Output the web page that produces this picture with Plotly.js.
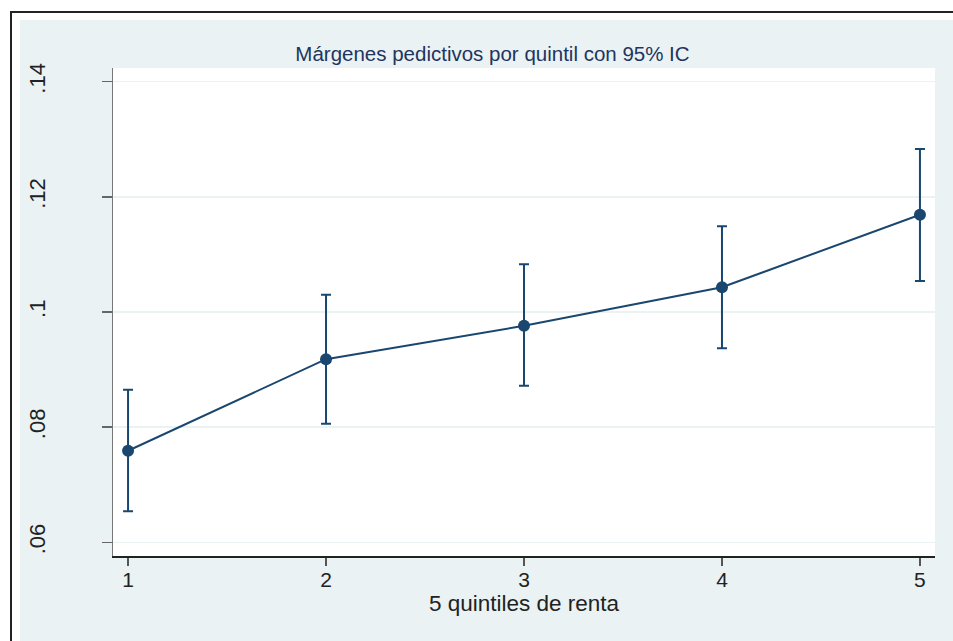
<!DOCTYPE html>
<html>
<head>
<meta charset="utf-8">
<script src="https://cdn.plot.ly/plotly-3.0.1.min.js"></script>
<style>
  html, body { margin: 0; padding: 0; background: #ffffff; width: 953px; height: 641px; overflow: hidden; }
  #frame { position: absolute; left: 10px; top: 11px; width: 943px; height: 630px; border-left: 2px solid #222; border-top: 2px solid #222; box-sizing: border-box; }
  #chart { position: absolute; left: 20px; top: 20px; width: 933px; height: 621px; }
</style>
</head>
<body>
<div id="frame"></div>
<div id="chart"></div>
<script>
// Data
var quintiles = [1, 2, 3, 4, 5];
var margins   = [0.0759, 0.0918, 0.0976, 0.1043, 0.1169];
var ciLower   = [0.0654, 0.0806, 0.0872, 0.0937, 0.1054];
var ciUpper   = [0.0865, 0.1030, 0.1083, 0.1149, 0.1283];
var yTickVals = [0.06, 0.08, 0.10, 0.12, 0.14];
var yTickText = ['.06', '.08', '.1', '.12', '.14'];
var xTickVals = [1, 2, 3, 4, 5];
var xTickText = ['1', '2', '3', '4', '5'];

var navy = '#1a476f';
var errPlus = ciUpper.map(function (u, i) { return u - margins[i]; });
var errMinus = ciLower.map(function (l, i) { return margins[i] - l; });

var trace = {
  x: quintiles,
  y: margins,
  type: 'scatter',
  mode: 'lines+markers',
  line: { color: navy, width: 2 },
  marker: { color: navy, size: 12 },
  error_y: {
    type: 'data', symmetric: false,
    array: errPlus, arrayminus: errMinus,
    color: navy, thickness: 2, width: 5
  },
  hoverinfo: 'x+y',
  showlegend: false
};

var font = "'Liberation Sans', Arial, sans-serif";

var layout = {
  width: 933, height: 621,
  paper_bgcolor: '#eaf2f3',
  plot_bgcolor: '#ffffff',
  margin: { l: 93, r: 18, t: 48, b: 85, pad: 0 },
  title: {
    text: 'Márgenes pedictivos por quintil con 95% IC',
    font: { family: font, size: 20.5, color: '#1e3560' },
    x: 0.5 + 6 / 933, xanchor: 'center',
    y: 1 - 34 / 621, yref: 'container', yanchor: 'middle'
  },
  xaxis: {
    range: [0.924, 5.076],
    tickmode: 'array', tickvals: xTickVals, ticktext: xTickText,
    ticks: 'outside', ticklen: 8, tickwidth: 1.5, tickcolor: '#555',
    showline: true, linecolor: '#222', linewidth: 1.5,
    showgrid: false, zeroline: false,
    ticklabelstandoff: -4,
    tickfont: { family: font, size: 21, color: '#222' },
    title: { text: '5 quintiles de renta', font: { family: font, size: 22.5, color: '#222' }, standoff: 0 }
  },
  yaxis: {
    range: [0.05762, 0.14238],
    tickmode: 'array', tickvals: yTickVals, ticktext: yTickText,
    tickangle: -90,
    ticks: 'outside', ticklen: 10, tickwidth: 1.5, tickcolor: '#666',
    showline: true, linecolor: '#777', linewidth: 1.5,
    showgrid: true, gridcolor: '#eaf2f3', gridwidth: 1.5,
    zeroline: false,
    ticklabelstandoff: 48,
    tickfont: { family: font, size: 22, color: '#222' }
  }
};

Plotly.newPlot('chart', [trace], layout, { displayModeBar: false, staticPlot: true });
</script>
</body>
</html>
